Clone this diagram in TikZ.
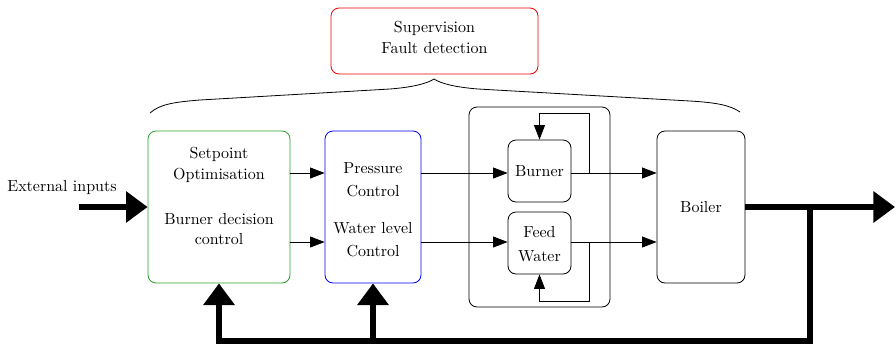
\documentclass[tikz,border=0pt]{standalone}
\usetikzlibrary{arrows.meta,fit}
\definecolor{boxgreen}{RGB}{40,160,40}
\definecolor{boxblue}{RGB}{0,0,240}
\definecolor{boxred}{RGB}{240,0,0}
\begin{document}
\begin{tikzpicture}[x=0.625pt,y=-0.625pt,
  box/.style={draw, rounded corners=5pt, inner sep=0pt, line width=0.5pt},
  lbl/.style={anchor=base, inner sep=0pt},
  thinline/.style={line width=0.5pt},
  sarrow/.style={thinline, -{Triangle[length=9pt,width=6.8pt]}},
  fat/.style={line width=3.2pt},
  farrow/.style={fat, -{Triangle[length=13.5pt,width=19pt]}}
]
\useasboundingbox (0,0) rectangle (896,344);

% boxes
\node[box, draw=boxred, fit={(331,8) (538,74)}] (sup) {};
\node[box, draw=boxgreen, fit={(148,131) (290,283)}] (opt) {};
\node[box, draw=boxblue, fit={(325,131) (421,283)}] (ctl) {};
\node[box, fit={(469,107) (610,307)}] (grp) {};
\node[box, fit={(508,140) (571,202)}] (bur) {};
\node[box, fit={(508,212) (571,274)}] (fw) {};
\node[box, fit={(657,131) (745,283)}] (boil) {};

% labels
\node[lbl] (t1) at (434.5,32) {Supervision};
\node[lbl] (t2) at (434.5,53) {Fault detection};
\node[lbl] (t3) at (62,191) {External inputs};
\node[lbl] (t4) at (219,158) {Setpoint};
\node[lbl] (t5) at (219,179) {Optimisation};
\node[lbl] (t6) at (219,224) {Burner decision};
\node[lbl] (t7) at (219,244) {control};
\node[lbl] (t8) at (373,173) {Pressure};
\node[lbl] (t9) at (373,196) {Control};
\node[lbl] (t10) at (373,233) {Water level};
\node[lbl] (t11) at (373,256) {Control};
\node[lbl] (t12) at (539.5,176) {Burner};
\node[lbl] (t13) at (539.5,237) {Feed};
\node[lbl] (t14) at (539.5,261) {Water};
\node[lbl] (t15) at (701,212) {Boiler};

% brace
\coordinate (bl) at (150,113);
\coordinate (btip) at (434,79);
\coordinate (br) at (740,112);
\draw[thinline] (bl) .. controls (160,104) and (175,102) .. (200,100) -- (390,89)
  .. controls (415,87) and (428,83) .. (btip)
  .. controls (440,83) and (453,87) .. (478,89) -- (690,101)
  .. controls (715,102.5) and (730,105) .. (br);

% thin connectors
\draw[sarrow] (opt.east |- 0,173) -- (ctl.west |- 0,173);
\draw[sarrow] (opt.east |- 0,242) -- (ctl.west |- 0,242);
\draw[sarrow] (ctl.east |- 0,173) -- (bur.west |- 0,173);
\draw[sarrow] (ctl.east |- 0,242) -- (fw.west |- 0,242);
\draw[sarrow] (bur.east |- 0,173) -- (boil.west |- 0,173);
\draw[sarrow] (fw.east |- 0,242) -- (boil.west |- 0,242);

% local loops
\coordinate (bj) at (589,173);
\coordinate (bt) at (589,113);
\draw[sarrow] (bj) -- (bt) -| (bur.north);
\coordinate (fj) at (589,242);
\coordinate (fb) at (589,301);
\draw[sarrow] (fj) -- (fb) -| (fw.south);

% thick arrows
\coordinate (ein) at (79,207);
\draw[farrow] (ein) -- (opt.west);
\coordinate (out) at (895,207);
\draw[farrow] (boil.east) -- (out);
\coordinate (fbj) at (810,207);
\coordinate (fbc) at (810,341);
\draw[farrow] (fbj) -- (fbc) -| (opt.south);
\draw[farrow] (ctl.south |- fbc) -- (ctl.south);
\end{tikzpicture}
\end{document}
